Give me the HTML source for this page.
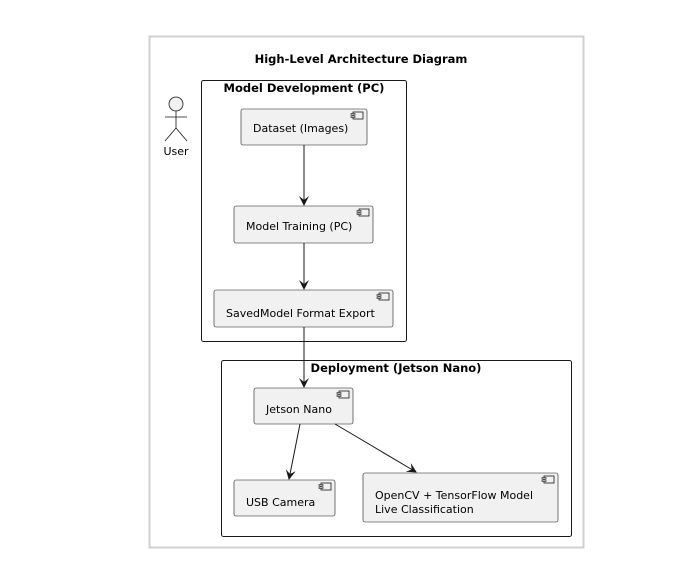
<!DOCTYPE html>
<html><head><style>body{margin:0;background:#fff}</style></head><body>
<svg width="696" height="578" xmlns="http://www.w3.org/2000/svg" font-family="DejaVu Sans, Liberation Sans, sans-serif">
<defs><marker id="a" markerWidth="10" markerHeight="10" refX="9" refY="5" orient="auto" markerUnits="userSpaceOnUse"><path d="M0,0 L10,5 L0,10 L4,5 Z" fill="#181818"/></marker>
<g id="ic"><rect x="3" y="0" width="10" height="7" fill="#f1f1f1" stroke="#181818" stroke-width="0.8"/><rect x="1" y="1.5" width="4" height="1.5" fill="#f1f1f1" stroke="#181818" stroke-width="0.6"/><rect x="1" y="4" width="4" height="1.5" fill="#f1f1f1" stroke="#181818" stroke-width="0.6"/></g></defs>
<rect x="149.5" y="36.5" width="434" height="511" fill="#fff" stroke="#d0d0d0" stroke-width="2"/>
<text x="361" y="63" font-size="11.5" font-weight="bold" text-anchor="middle" fill="#000">High-Level Architecture Diagram</text>
<circle cx="176" cy="104" r="7" fill="#f1f1f1" stroke="#181818" stroke-width="0.8"/>
<path d="M176,111 V128 M165,117 H187 M176,128 L165,141 M176,128 L187,141" stroke="#181818" stroke-width="0.8" fill="none"/>
<text x="176" y="155" font-size="11" text-anchor="middle">User</text>
<rect x="201.5" y="80.5" width="205" height="261" rx="2" fill="none" stroke="#181818"/>
<text x="304" y="92" font-size="11.5" font-weight="bold" text-anchor="middle">Model Development (PC)</text>
<rect x="221.5" y="360.5" width="350" height="176" rx="2" fill="none" stroke="#181818"/>
<text x="396" y="372" font-size="11.5" font-weight="bold" text-anchor="middle">Deployment (Jetson Nano)</text>
<g fill="#f1f1f1" stroke="#181818" stroke-width="0.6">
<rect x="241" y="109" width="126" height="36" rx="2"/>
<rect x="234" y="206" width="139" height="37" rx="2"/>
<rect x="214" y="290" width="179" height="37" rx="2"/>
<rect x="254" y="388" width="99" height="36" rx="2"/>
<rect x="234" y="480" width="101" height="36" rx="2"/>
<rect x="363" y="473" width="195" height="49" rx="2"/>
</g>
<use href="#ic" x="350" y="112"/><use href="#ic" x="356" y="209"/><use href="#ic" x="376" y="293"/>
<use href="#ic" x="336" y="391"/><use href="#ic" x="318" y="483"/><use href="#ic" x="541" y="476"/>
<g font-size="11" fill="#000">
<text x="253" y="132">Dataset (Images)</text>
<text x="246" y="230">Model Training (PC)</text>
<text x="226" y="317">SavedModel Format Export</text>
<text x="266" y="413">Jetson Nano</text>
<text x="246" y="506">USB Camera</text>
<text x="375" y="499">OpenCV + TensorFlow Model</text>
<text x="375" y="513">Live Classification</text>
</g>
<g stroke="#181818" stroke-width="1" fill="none" marker-end="url(#a)">
<line x1="304" y1="145" x2="304" y2="205"/>
<line x1="304" y1="243" x2="304" y2="289"/>
<line x1="304" y1="327" x2="304" y2="387"/>
<line x1="300" y1="424" x2="289" y2="479"/>
<line x1="335" y1="424" x2="416" y2="472"/>
</g>
</svg>
</body></html>
